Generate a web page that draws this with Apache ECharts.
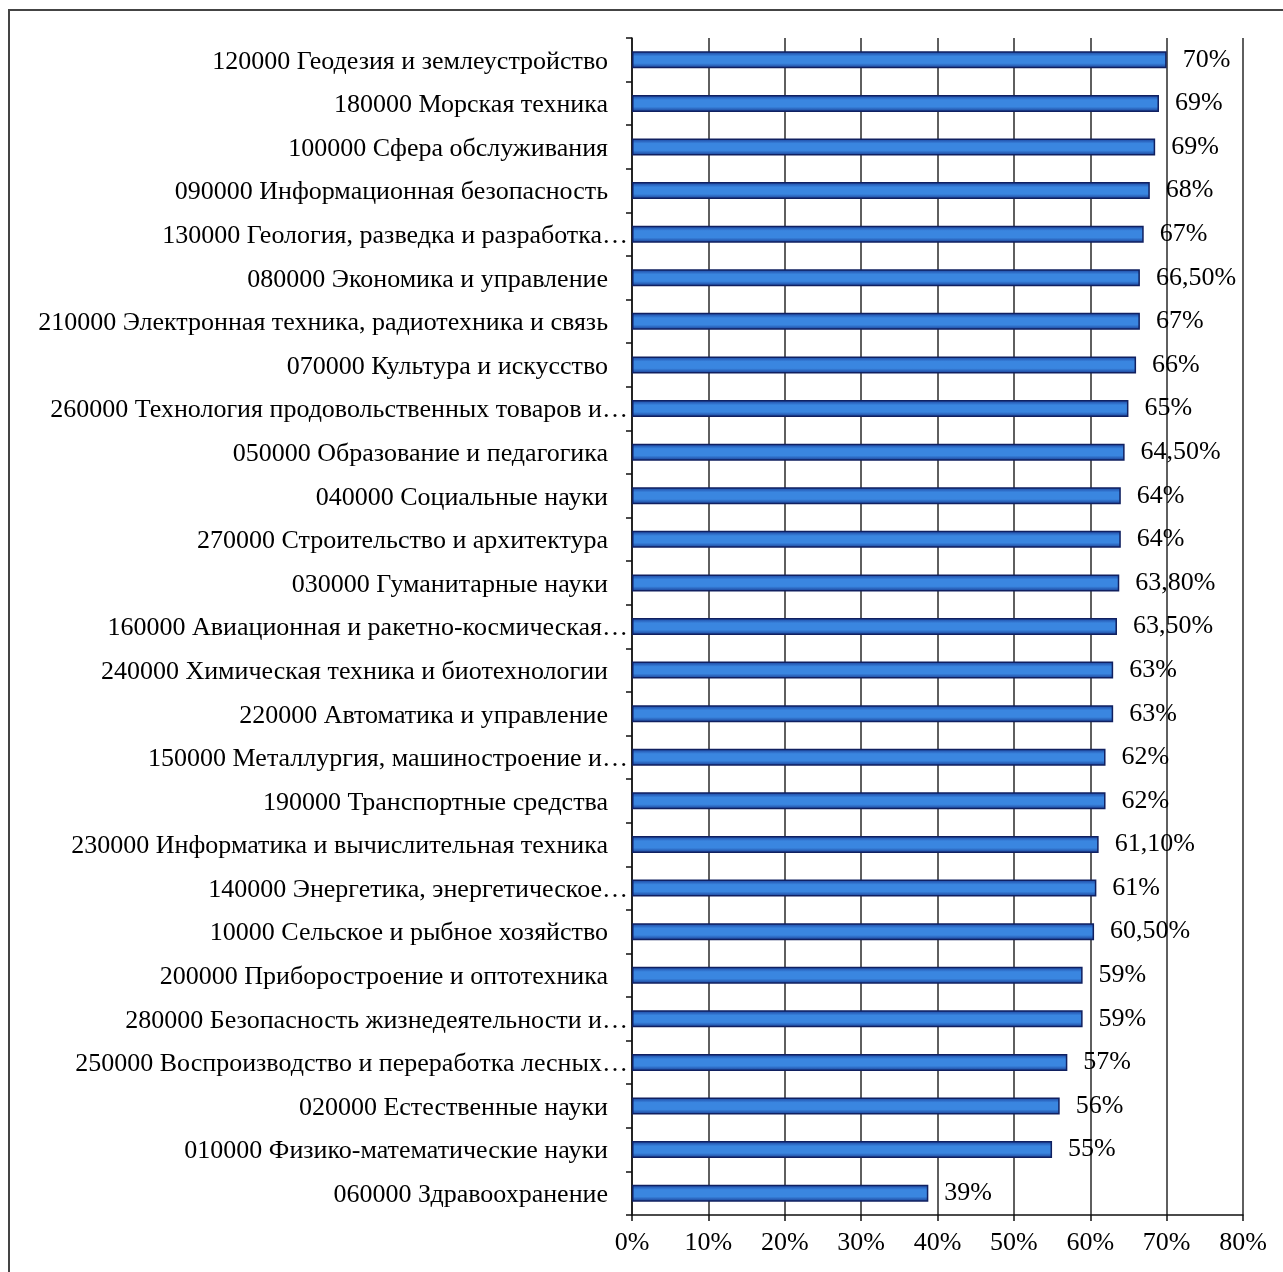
<!DOCTYPE html>
<html>
<head>
<meta charset="utf-8">
<script src="https://cdn.jsdelivr.net/npm/echarts@6/dist/echarts.min.js"></script>
<style>
html,body{margin:0;padding:0;background:#fff;}
#chart{width:1283px;height:1272px;}
</style>
</head>
<body>
<div id="chart"></div>
<script>
const categories = [
  "120000 Геодезия и землеустройство",
  "180000 Морская техника",
  "100000 Сфера обслуживания",
  "090000 Информационная безопасность",
  "130000 Геология, разведка и разработка…",
  "080000 Экономика и управление",
  "210000 Электронная техника, радиотехника и связь",
  "070000 Культура и искусство",
  "260000 Технология продовольственных товаров и…",
  "050000 Образование и педагогика",
  "040000 Социальные науки",
  "270000 Строительство и архитектура",
  "030000 Гуманитарные науки",
  "160000 Авиационная и ракетно-космическая…",
  "240000 Химическая техника и биотехнологии",
  "220000 Автоматика и управление",
  "150000 Металлургия, машиностроение и…",
  "190000 Транспортные средства",
  "230000 Информатика и вычислительная техника",
  "140000 Энергетика, энергетическое…",
  "10000 Сельское и рыбное хозяйство",
  "200000 Приборостроение и оптотехника",
  "280000 Безопасность жизнедеятельности и…",
  "250000 Воспроизводство и переработка лесных…",
  "020000 Естественные науки",
  "010000 Физико-математические науки",
  "060000 Здравоохранение"
];
const values = [70, 69, 68.5, 67.8, 67, 66.5, 66.5, 66, 65, 64.5, 64, 64, 63.8, 63.5, 63, 63, 62, 62, 61.1, 60.8, 60.5, 59, 59, 57, 56, 55, 38.8];
const valueLabels = ["70%", "69%", "69%", "68%", "67%", "66,50%", "67%", "66%", "65%", "64,50%", "64%", "64%", "63,80%", "63,50%", "63%", "63%", "62%", "62%", "61,10%", "61%", "60,50%", "59%", "59%", "57%", "56%", "55%", "39%"];
const xTicks = ["0%", "10%", "20%", "30%", "40%", "50%", "60%", "70%", "80%"];

const FONT = "'Liberation Serif', 'Times New Roman', serif";
const FS = 26;
const chart = echarts.init(document.getElementById('chart'));
chart.setOption({
  backgroundColor: '#fff',
  animation: false,
  graphic: [{
    type: 'rect',
    shape: { x: 9, y: 10, width: 1300, height: 1300 },
    style: { fill: 'none', stroke: '#444', lineWidth: 2 },
    silent: true
  }],
  grid: { left: 632, right: 40, top: 38, bottom: 57, containLabel: false },
  xAxis: {
    type: 'value',
    min: 0, max: 80, interval: 10,
    axisLine: { show: true, lineStyle: { color: '#111', width: 1.5 } },
    axisTick: { show: true, length: 6, lineStyle: { color: '#111', width: 1.5 } },
    splitLine: { show: true, lineStyle: { color: '#2a2a2a', width: 1.5 } },
    axisLabel: {
      margin: 15,
      color: '#000',
      fontFamily: FONT,
      fontSize: FS,
      formatter: function (v) { return xTicks[Math.round(v / 10)]; }
    }
  },
  yAxis: {
    type: 'category',
    inverse: true,
    data: categories,
    axisLine: { show: true, lineStyle: { color: '#111', width: 1.5 } },
    axisTick: { show: true, length: 6, alignWithLabel: false, lineStyle: { color: '#111', width: 1.5 } },
    splitLine: { show: false },
    axisLabel: {
      margin: 2,
      color: '#000',
      fontFamily: FONT,
      fontSize: FS,
      formatter: function (v) {
        return v.endsWith('…') ? '{q|' + v + '}' : '{p|' + v + '}';
      },
      rich: {
        p: { fontFamily: FONT, fontSize: FS, color: '#000', padding: [4, 22, 0, 0] },
        q: { fontFamily: FONT, fontSize: FS, color: '#000', padding: [4, 2, 0, 0] }
      }
    }
  },
  series: [{
    type: 'bar',
    data: values,
    barWidth: 17,
    itemStyle: {
      borderColor: '#102060',
      borderWidth: 1.5,
      color: new echarts.graphic.LinearGradient(0, 0, 0, 1, [
        { offset: 0, color: '#1a3f9a' },
        { offset: 0.3, color: '#3a86e0' },
        { offset: 0.7, color: '#3a86e0' },
        { offset: 1, color: '#183a90' }
      ])
    },
    label: {
      show: true,
      position: 'right',
      distance: 16,
      color: '#000',
      fontFamily: FONT,
      fontSize: FS,
      padding: [4, 0, 0, 0],
      formatter: function (p) { return valueLabels[p.dataIndex]; }
    }
  }]
});
</script>
</body>
</html>
